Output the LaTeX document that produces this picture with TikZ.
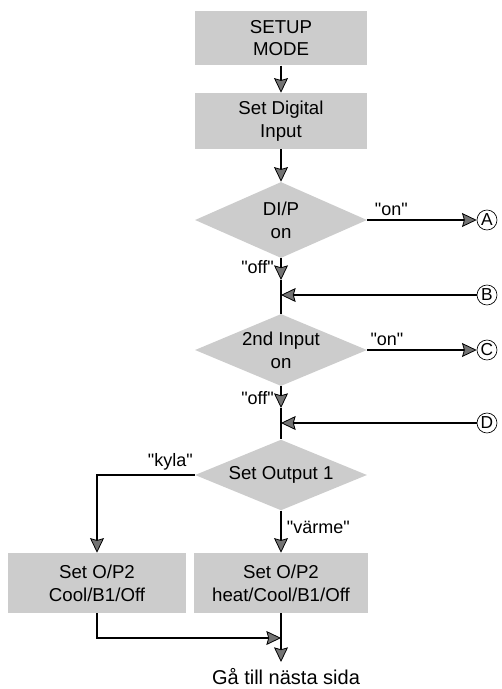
\documentclass[tikz,border=0pt]{standalone}
\usepackage{fontspec}
\setmainfont{Liberation Sans}
\usetikzlibrary{arrows.meta}
\usetikzlibrary{shapes.geometric}
\newcommand\qt[1]{\textquotedbl#1\textquotedbl}

\begin{document}
\begin{tikzpicture}[x=0.75pt, y=-0.75pt,
    box/.style={rectangle, fill=black!20, align=center, inner sep=0pt,
      font=\fontsize{14}{17}\selectfont},
    choice/.style={diamond, aspect=2.4, fill=black!20, align=center, inner sep=0pt,
      font=\fontsize{14}{17}\selectfont},
    tag/.style={font=\fontsize{13.5}{16}\selectfont, inner sep=1pt},
    letter/.style={circle, draw, line width=0.5pt, minimum size=15pt, inner sep=0pt,
      font=\fontsize{13}{13}\selectfont},
    flow/.style={line width=0.9pt, -{Stealth[length=11pt, width=10.5pt, inset=1.5pt, fill=black!55, line width=0.6pt]}},
    wire/.style={line width=0.9pt}]
  \useasboundingbox (0,0) rectangle (501,689);
  \node[box, minimum width=129pt, minimum height=41pt] (setup) at (281,38) {SETUP\\MODE};
  \node[box, minimum width=129pt, minimum height=42pt] (digital) at (281,121) {Set Digital\\Input};
  \node[choice, minimum width=129pt, minimum height=57pt] (dip) at (281,220) {DI/P\\on};
  \node[choice, minimum width=129pt, minimum height=54pt] (second) at (281,350) {2nd Input\\on};
  \node[choice, minimum width=129pt, minimum height=53pt] (out) at (281,475) {Set Output 1};
  \node[box, minimum width=133pt, minimum height=45pt] (cool) at (97,583) {Set O/P2\\Cool/B1/Off};
  \node[box, minimum width=130pt, minimum height=45pt] (heat) at (281,583) {Set O/P2\\heat/Cool/B1/Off};
  \node[font=\fontsize{15}{17}\selectfont, inner sep=1pt] (next) at (286,677) {Gå till nästa sida};
  \node[letter] (ma) at (487,220) {A};
  \node[letter] (mb) at (487,295) {B};
  \node[letter] (mc) at (487,350) {C};
  \node[letter] (md) at (487,423) {D};
  \coordinate (offb) at (281,280);
  \coordinate (jb) at (281,295);
  \coordinate (offd) at (281,408);
  \coordinate (jd) at (281,423);
  \coordinate (kyl) at (97,475);
  \coordinate (bend) at (97,638);
  \coordinate (join) at (281,638);
  \coordinate (end) at (281,662);
  \draw[flow] (setup) -- (digital);
  \draw[flow] (digital) -- (dip);
  \draw[flow] (dip.east) -- (ma.west) node[tag, pos=0.22, above=2pt] {\qt{on}};
  \draw[flow] (dip.south) -- (offb) node[tag, pos=0.4, left=4pt] {\qt{off}};
  \draw[wire] (offb) -- (second.north);
  \draw[flow] (mb.west) -- (jb);
  \draw[flow] (second.east) -- (mc.west) node[tag, pos=0.18, above=2pt] {\qt{on}};
  \draw[flow] (second.south) -- (offd) node[tag, pos=0.55, left=4pt] {\qt{off}};
  \draw[wire] (offd) -- (out.north);
  \draw[flow] (md.west) -- (jd);
  \draw[flow] (out.west) -- (kyl) node[tag, pos=0.25, above=2pt] {\qt{kyla}} -- (cool.north);
  \draw[flow] (out.south) -- (heat.north) node[tag, pos=0.4, right=3pt] {\qt{värme}};
  \draw[flow] (cool.south) -- (bend) -- (join);
  \draw[flow] (heat.south) -- (end);
\end{tikzpicture}
\end{document}
